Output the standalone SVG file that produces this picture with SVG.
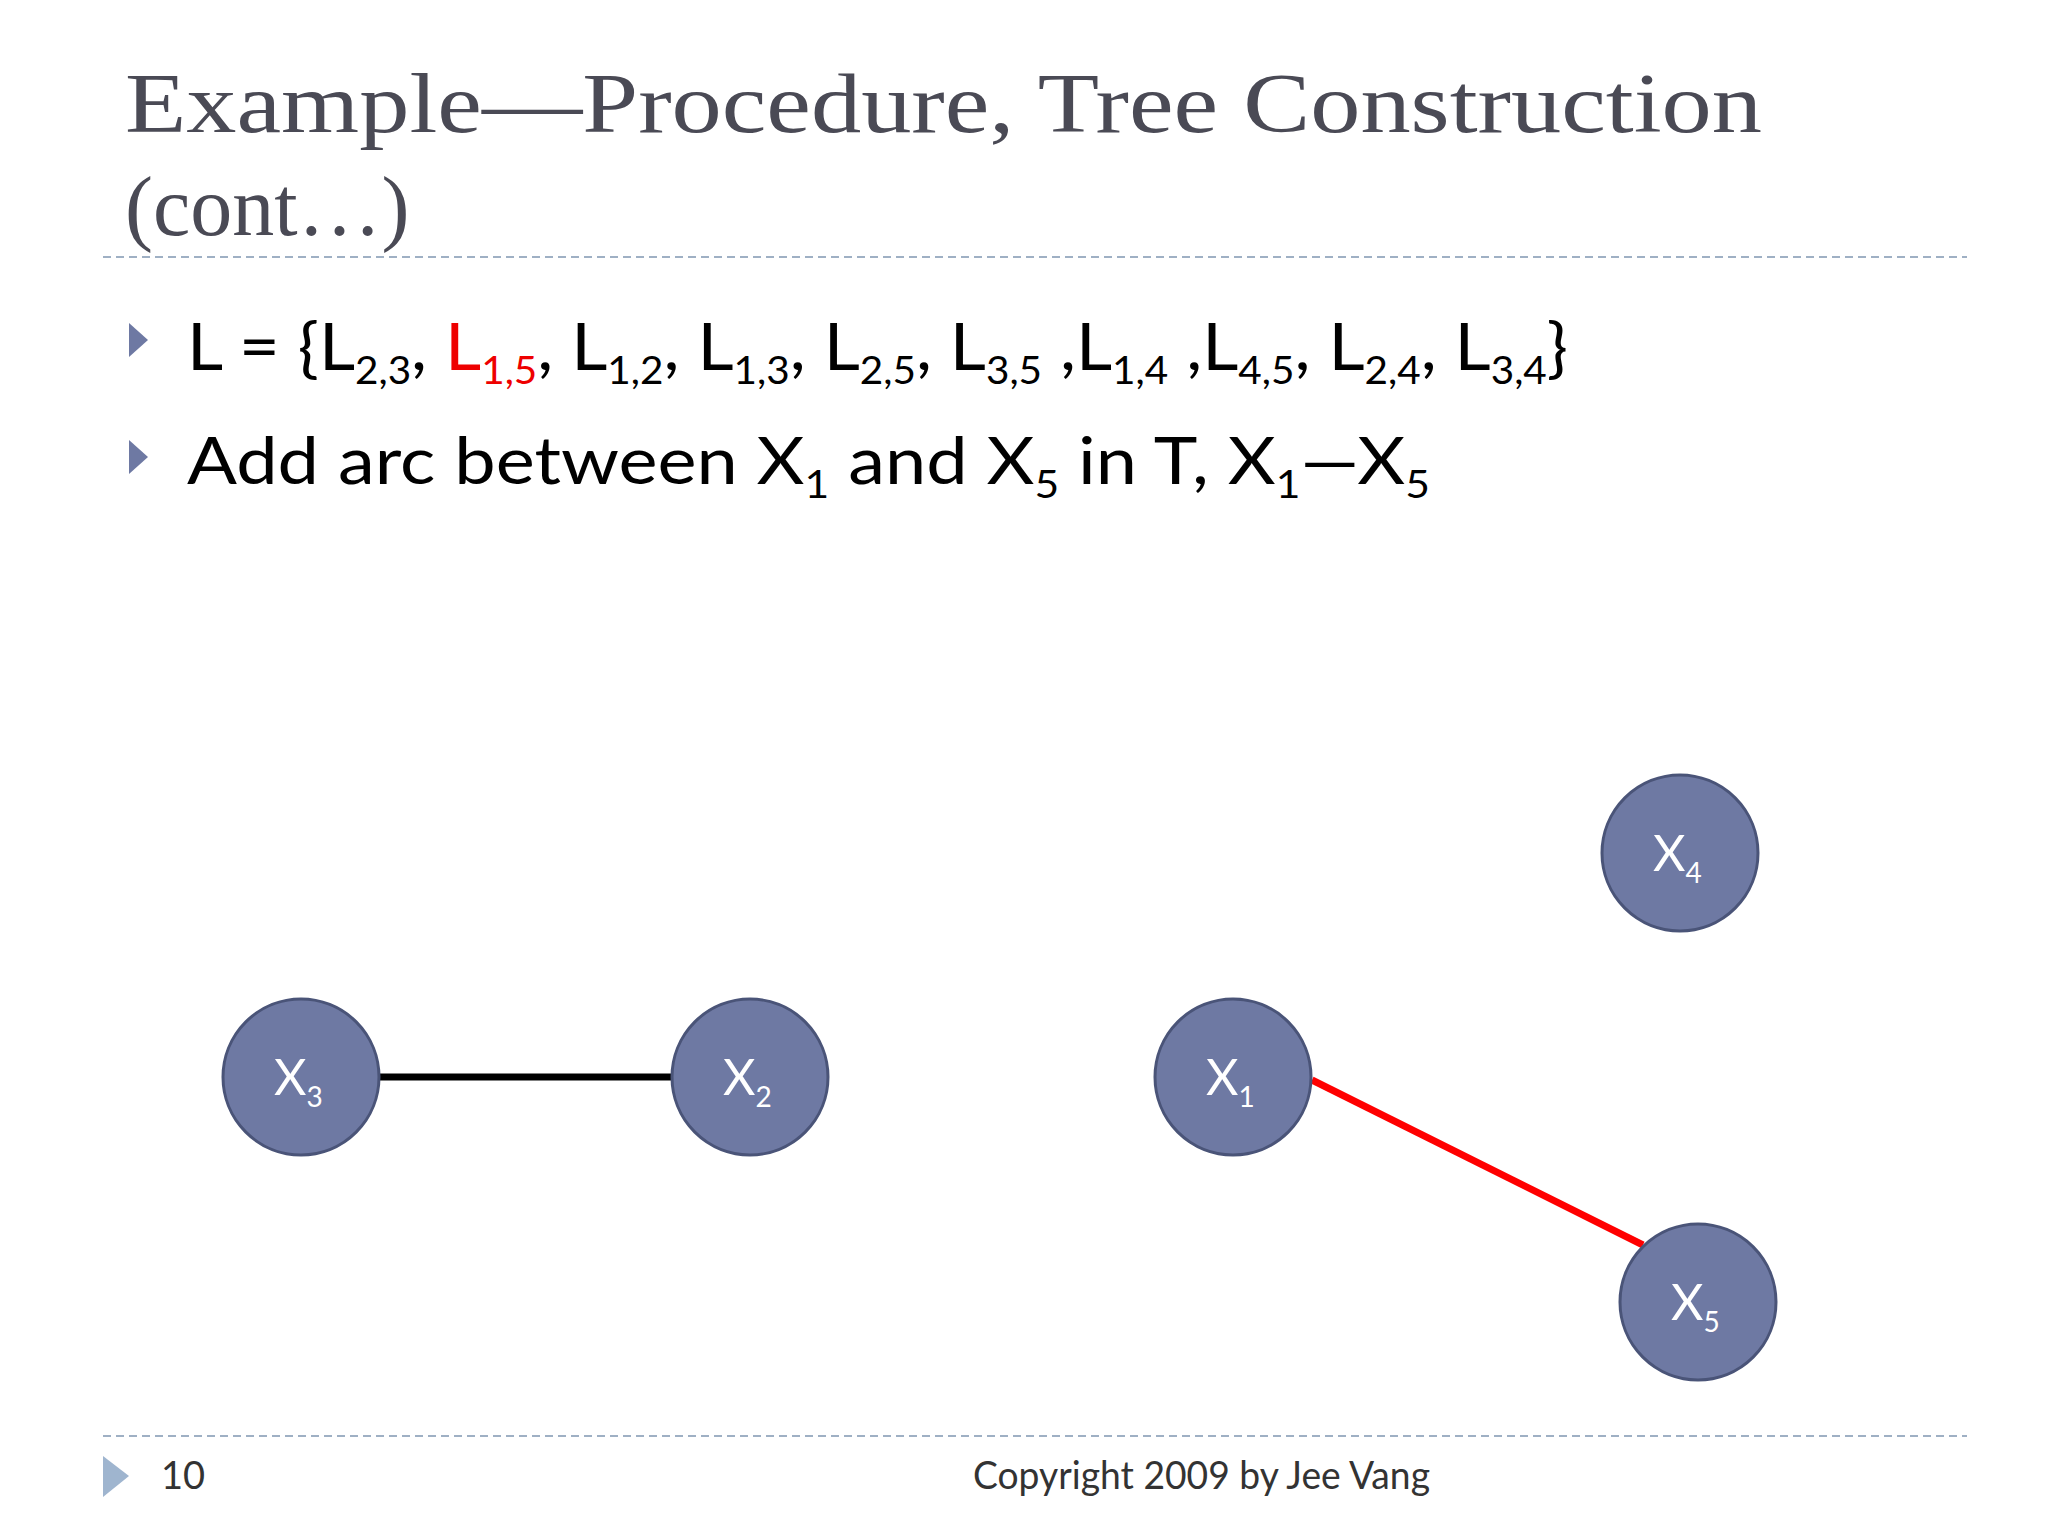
<svg xmlns="http://www.w3.org/2000/svg" width="2048" height="1536" viewBox="0 0 2048 1536">
<style>
.t{font-family:"Liberation Serif",serif;font-size:84px;fill:#4a4a55}
.b{font-family:Lato,"Open Sans",sans-serif;font-size:66px;fill:#000}
.s{font-size:38px}
.n{fill:#6e79a3;stroke:#4a5478;stroke-width:3}
.nl{font-family:Lato,sans-serif;font-size:50px;fill:#fff}
.ns{font-size:28px}
.d{stroke:#9fb0c4;stroke-width:2;stroke-dasharray:8,5}
</style>
<rect width="2048" height="1536" fill="#fff"/>
<text class="t" x="125" y="132" textLength="1637" lengthAdjust="spacingAndGlyphs">Example—Procedure, Tree Construction</text>
<text class="t" x="125" y="235">(cont…)</text>
<line class="d" x1="103" y1="257" x2="1967" y2="257"/>
<polygon points="129,323 148,340 129,357" fill="#6e79a3"/>
<text class="b" x="187" y="370" textLength="1381" lengthAdjust="spacingAndGlyphs">L = {L<tspan class="s" dy="14">2,3</tspan><tspan dy="-14">, </tspan><tspan fill="#e00">L</tspan><tspan class="s" dy="14" fill="#e00">1,5</tspan><tspan dy="-14">, L</tspan><tspan class="s" dy="14">1,2</tspan><tspan dy="-14">, L</tspan><tspan class="s" dy="14">1,3</tspan><tspan dy="-14">, L</tspan><tspan class="s" dy="14">2,5</tspan><tspan dy="-14">, L</tspan><tspan class="s" dy="14">3,5</tspan><tspan dy="-14"> ,L</tspan><tspan class="s" dy="14">1,4</tspan><tspan dy="-14"> ,L</tspan><tspan class="s" dy="14">4,5</tspan><tspan dy="-14">, L</tspan><tspan class="s" dy="14">2,4</tspan><tspan dy="-14">, L</tspan><tspan class="s" dy="14">3,4</tspan><tspan dy="-14">}</tspan></text>
<polygon points="129,440 148,457 129,474" fill="#6e79a3"/>
<text class="b" x="187" y="484" textLength="1243" lengthAdjust="spacingAndGlyphs">Add arc between X<tspan class="s" dy="14">1</tspan><tspan dy="-14"> and X</tspan><tspan class="s" dy="14">5</tspan><tspan dy="-14"> in T, X</tspan><tspan class="s" dy="14">1</tspan><tspan dy="-14">—X</tspan><tspan class="s" dy="14">5</tspan></text>
<g id="connectors">
<line x1="380" y1="1077" x2="673" y2="1077" stroke="#000" stroke-width="7"/>
<line x1="1312" y1="1080" x2="1643" y2="1245" stroke="#f00" stroke-width="7"/>
</g>
<g id="X3"><circle class="n" cx="301" cy="1077" r="78"/><text class="nl" x="274" y="1095">X<tspan class="ns" dy="12">3</tspan></text></g>
<g id="X2"><circle class="n" cx="750" cy="1077" r="78"/><text class="nl" x="723" y="1095">X<tspan class="ns" dy="12">2</tspan></text></g>
<g id="X1"><circle class="n" cx="1233" cy="1077" r="78"/><text class="nl" x="1206" y="1095">X<tspan class="ns" dy="12">1</tspan></text></g>
<g id="X4"><circle class="n" cx="1680" cy="853" r="78"/><text class="nl" x="1653" y="871">X<tspan class="ns" dy="12">4</tspan></text></g>
<g id="X5"><circle class="n" cx="1698" cy="1302" r="78"/><text class="nl" x="1671" y="1320">X<tspan class="ns" dy="12">5</tspan></text></g>
<line class="d" x1="103" y1="1436" x2="1967" y2="1436"/>
<polygon points="103,1456 129,1476 103,1497" fill="#9fb5cf"/>
<text x="161" y="1489" font-family="Lato,sans-serif" font-size="38" fill="#333">10</text>
<text x="973" y="1489" font-family="Lato,sans-serif" font-size="38" fill="#333" textLength="457" lengthAdjust="spacingAndGlyphs">Copyright 2009 by Jee Vang</text>
</svg>
